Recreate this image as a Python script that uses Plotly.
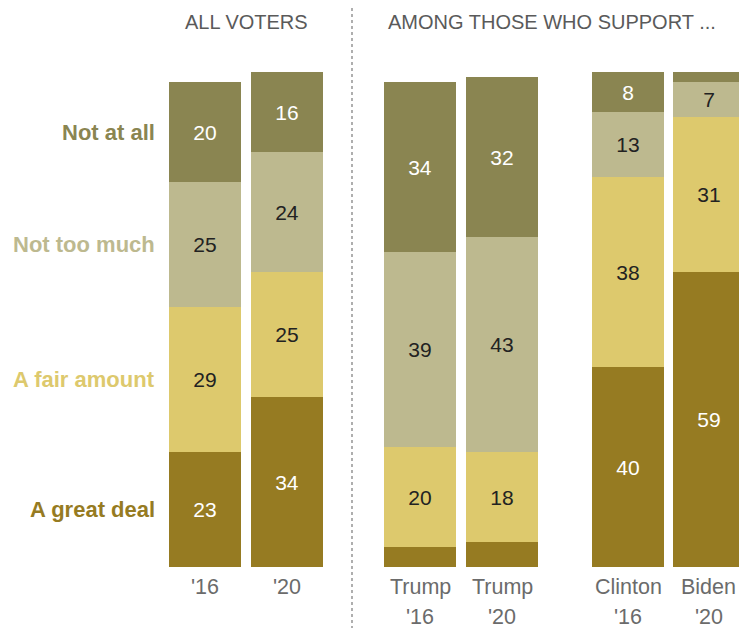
import plotly.graph_objects as go

# ---- data ----
groups = ["'16", "'20", "Trump '16", "Trump '20", "Clinton '16", "Biden '20"]
label_line1 = ["'16", "'20", "Trump", "Trump", "Clinton", "Biden"]
label_line2 = ["", "", "'16", "'20", "'16", "'20"]
series_names = ["A great deal", "A fair amount", "Not too much", "Not at all"]
great_deal = [23, 34, 4, 5, 40, 59]
fair_amount = [29, 25, 20, 18, 38, 31]
not_too_much = [25, 24, 39, 43, 13, 7]
not_at_all = [20, 16, 34, 32, 8, 2]
show_label_min = 6  # segments smaller than this get no number

colors = ["#967b22", "#ddc96d", "#bdb98f", "#8a8551"]
text_colors = ["#ffffff", "#222222", "#222222", "#ffffff"]

# ---- layout constants (pixels) ----
W, H = 739, 631
px_per_unit_x = 82.0
x0_px = 205.0
positions = [0, 1, 2.622, 3.622, 5.159, 6.146]
bar_width = 72 / px_per_unit_x
bottom_px = 567
px_per_val = 5.0

series_vals = [great_deal, fair_amount, not_too_much, not_at_all]
FONT = "Liberation Sans, Arial, sans-serif"

fig = go.Figure()
for name, vals, col, tcol in zip(series_names, series_vals, colors, text_colors):
    fig.add_trace(go.Bar(
        x=positions, y=vals, width=bar_width, name=name,
        marker=dict(color=col, line=dict(width=0)),
        text=[str(v) if v >= show_label_min else "" for v in vals],
        textposition="inside", insidetextanchor="middle", textangle=0,
        textfont=dict(family=FONT, size=21, color=tcol),
        constraintext="none",
        hoverinfo="skip",
    ))

x_min = -x0_px / px_per_unit_x
x_max = (W - x0_px) / px_per_unit_x
y_max = bottom_px / px_per_val

annotations = []
# row labels on the left, aligned with the first bar's segment centres
cum = 0
for name, vals, col in zip(series_names, series_vals, colors):
    mid = cum + vals[0] / 2
    cum += vals[0]
    annotations.append(dict(
        x=157 / W, xref="paper", y=mid, yref="y", xanchor="right", yanchor="middle",
        text=f"<b>{name}</b>", showarrow=False,
        font=dict(family=FONT, size=22, color=col),
    ))

# bottom category labels
def ypix(p):
    return (bottom_px - p) / bottom_px

for p, l1, l2 in zip(positions, label_line1, label_line2):
    annotations.append(dict(
        x=p, xref="x", y=ypix(587), yref="paper",
        xanchor="center", yanchor="middle", text=l1, showarrow=False,
        font=dict(family=FONT, size=21.5, color="#6b6b6b"),
    ))
    if l2:
        annotations.append(dict(
            x=p, xref="x", y=ypix(617), yref="paper",
            xanchor="center", yanchor="middle", text=l2, showarrow=False,
            font=dict(family=FONT, size=21.5, color="#6b6b6b"),
        ))

# headers
annotations.append(dict(
    x=246 / W, xref="paper", y=ypix(22), yref="paper",
    xanchor="center", yanchor="middle", text="ALL VOTERS", showarrow=False,
    font=dict(family=FONT, size=20, color="#5a5a5a"),
))
annotations.append(dict(
    x=552 / W, xref="paper", y=ypix(22), yref="paper",
    xanchor="center", yanchor="middle", text="AMONG THOSE WHO SUPPORT ...", showarrow=False,
    font=dict(family=FONT, size=20, color="#5a5a5a"),
))

shapes = [dict(
    type="line", xref="paper", yref="paper",
    x0=352 / W, x1=352 / W, y0=ypix(8), y1=ypix(628),
    line=dict(color="#7a7a7a", width=1.2, dash="dot"),
)]

fig.update_layout(
    width=W, height=H, barmode="stack", showlegend=False,
    margin=dict(l=0, r=0, t=0, b=H - bottom_px, pad=0),
    paper_bgcolor="white", plot_bgcolor="white",
    xaxis=dict(range=[x_min, x_max], visible=False, fixedrange=True),
    yaxis=dict(range=[0, y_max], visible=False, fixedrange=True),
    annotations=annotations, shapes=shapes,
    bargap=0,
)

fig.write_html("out.html")
